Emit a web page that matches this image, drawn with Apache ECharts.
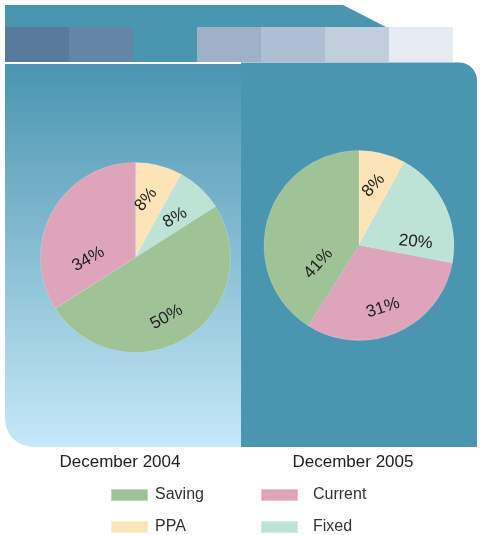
<!DOCTYPE html>
<html>
<head>
<meta charset="utf-8">
<script src="https://cdn.jsdelivr.net/npm/echarts@6/dist/echarts.min.js"></script>
<style>
  html, body { margin: 0; padding: 0; background: #fff; }
  #chart { width: 480px; height: 535px; }
</style>
</head>
<body>
<div id="chart"></div>
<script>
// Deposit mix, two snapshots (values are the printed percentages)
const categories = ['Saving', 'Current', 'PPA', 'Fixed'];
const order2004 = ['PPA', 'Fixed', 'Saving', 'Current'];
const values2004 = [8, 8, 50, 34];
const order2005 = ['PPA', 'Fixed', 'Current', 'Saving'];
const values2005 = [8, 20, 31, 41];
const periodLabels = ['December 2004', 'December 2005'];

// colours per category
const sliceColors = {
  Saving: '#9FC396',
  Current: '#DEA5BA',
  PPA: '#FDE4B8',
  Fixed: '#BDE2D6'
};

// label tweaks (rotation in degrees, nudge in px) per slice, same order as the data
const labelRotate = [[50, 30, 29, 29], [48, -6, 18, 48]];
const labelNudge = [
  [[-2, -9], [5, -3], [4, 17], [-3, 26]],
  [[2, -11], [11, 18], [4, 16], [8, 32]]
];

const teal = '#4A95B0';
const headerSquares = ['#577A9D', '#6386A6', teal, '#9FB1C8', '#AEBED3', '#C1CEDD', '#E6EBF3'];
const FONT = '"Liberation Sans", Arial, Helvetica, sans-serif';

function buildData(order, values) {
  return order.map((name, i) => ({
    name: name,
    value: values[i],
    itemStyle: { color: sliceColors[name] }
  }));
}

function pieSeries(idx, center, order, values) {
  return {
    name: periodLabels[idx],
    type: 'pie',
    center: center,
    radius: 95,
    startAngle: 90,
    clockwise: true,
    animation: false,
    silent: true,
    data: buildData(order, values),
    itemStyle: { borderWidth: 0.5, borderColor: 'rgba(255,255,255,0.35)' },
    label: {
      show: true,
      position: 'inside',
      formatter: '{c}%',
      fontFamily: FONT,
      fontSize: 17,
      color: '#222'
    },
    labelLine: { show: false },
    labelLayout: function (p) {
      const r = p.labelRect;
      const n = labelNudge[idx][p.dataIndex];
      return {
        x: r.x + r.width / 2 + n[0],
        y: r.y + r.height / 2 + n[1],
        rotate: labelRotate[idx][p.dataIndex]
      };
    }
  };
}

// decorative frame
const graphics = [
  {
    type: 'polygon', z: 0, silent: true,
    shape: { points: [[5, 5], [343, 5], [386, 27], [5, 27]] },
    style: { fill: teal }
  },
  {
    type: 'rect', z: 0, silent: true,
    shape: { x: 5, y: 64, width: 236, height: 383, r: [0, 0, 0, 28] },
    style: {
      fill: new echarts.graphic.LinearGradient(0, 0, 0, 1, [
        { offset: 0, color: '#4A95B0' },
        { offset: 1, color: '#C6E8F8' }
      ])
    }
  },
  {
    type: 'rect', z: 0, silent: true,
    shape: { x: 241, y: 62.5, width: 236, height: 384.5, r: [0, 18, 0, 0] },
    style: { fill: teal }
  }
];
headerSquares.forEach((c, i) => {
  graphics.push({
    type: 'rect', z: 0, silent: true,
    shape: { x: 5 + i * 64, y: 27, width: 64, height: 35 },
    style: { fill: c }
  });
});

const legendText = { fontFamily: FONT, fontSize: 16, color: '#333', lineHeight: 18 };

function legendBox(names, left, textPad) {
  return {
    data: names,
    orient: 'vertical', left: left, top: 486, height: 60,
    padding: 0,
    itemWidth: 37, itemHeight: 12, itemGap: 14,
    icon: 'rect', selectedMode: false,
    textStyle: Object.assign({ padding: [0, 0, 0, textPad] }, legendText)
  };
}

const chart = echarts.init(document.getElementById('chart'), null, { renderer: 'canvas' });
chart.setOption({
  animation: false,
  backgroundColor: '#fff',
  graphic: graphics,
  title: [
    {
      text: periodLabels[0], left: 115, top: 449, textAlign: 'center',
      textStyle: { fontFamily: FONT, fontSize: 17, fontWeight: 'normal', color: '#222' }
    },
    {
      text: periodLabels[1], left: 348, top: 449, textAlign: 'center',
      textStyle: { fontFamily: FONT, fontSize: 17, fontWeight: 'normal', color: '#222' }
    }
  ],
  legend: [
    legendBox([categories[0], categories[2]], 110, 2),
    legendBox([categories[1], categories[3]], 260, 10)
  ],
  series: [
    pieSeries(0, [135.5, 257.5], order2004, values2004),
    pieSeries(1, [359, 245.5], order2005, values2005)
  ]
});
</script>
</body>
</html>
